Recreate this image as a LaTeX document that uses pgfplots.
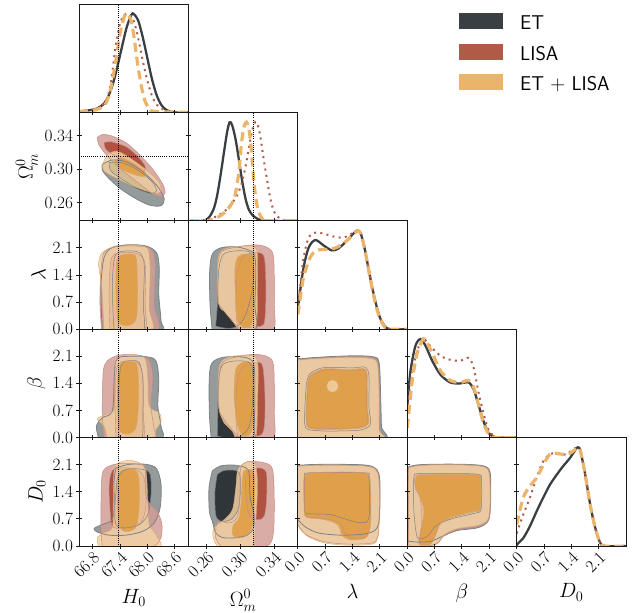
\documentclass[border=0pt]{standalone}
\usepackage{pgfplots}
\usepackage{pgfplotstable}
\pgfplotsset{compat=1.18}

% line colours of the three data sets
\definecolor{etline}{HTML}{393F42}
\definecolor{lisaline}{HTML}{B15A46}
\definecolor{bothline}{HTML}{EBB469}
% fill colours (outer = 95%, inner = 68%)
\definecolor{etout}{HTML}{83888A}
\definecolor{etin}{HTML}{1E2427}
\definecolor{lisaout}{HTML}{D29D96}
\definecolor{lisain}{HTML}{A9432F}
\definecolor{bothout}{HTML}{F1D1A4}
\definecolor{bothin}{HTML}{E09B3F}
\definecolor{etedge}{HTML}{7C8285}
\definecolor{lisaedge}{HTML}{C48B82}
\definecolor{bothedge}{HTML}{D6A86C}

\pgfplotsset{
  panel/.style={scale only axis, width=109.4bp, height=108.4bp, anchor=north west, axis on top,
    axis line style={line width=0.9pt, black!90},
    tick style={line width=0.9pt, black!90},
    major tick length=5bp, tick align=center,
    tick label style={font=\fontsize{16.3}{16.3}\selectfont},
    xticklabel style={rotate=45, anchor=north east, inner sep=1.5pt},
    label style={font=\fontsize{21}{21}\selectfont},
    xlabel style={yshift=-5bp}},
  diag/.style={ymin=0, ymax=1.1, ytick=\empty, xtick pos=left},
  Hx/.style={xmin=66.5, xmax=68.9, xtick={66.8,67.4,68.0,68.6}},
  Ox/.style={xmin=0.238, xmax=0.368, xtick={0.26,0.30,0.34}},
  Ax/.style={xmin=0, xmax=2.8, xtick={0,0.7,1.4,2.1}},
  Oy/.style={ymin=0.238, ymax=0.368, ytick={0.26,0.30,0.34}},
  Ay/.style={ymin=0, ymax=2.8, ytick={0,0.7,1.4,2.1}},
  nox/.style={xticklabels={}},
  noy/.style={yticklabels={}},
  HxL/.style={xticklabels={$66.8$,$67.4$,$68.0$,$68.6$}, xlabel={$H_0$}},
  OxL/.style={xticklabels={$0.26$,$0.30$,$0.34$}, xlabel={$\Omega_m^0$}},
  AxL/.style={xticklabels={$0.0$,$0.7$,$1.4$,$2.1$}},
  OyL/.style={yticklabels={$0.26$,$0.30$,$0.34$}, ylabel={$\Omega_m^0$}},
  AyL/.style={yticklabels={$0.0$,$0.7$,$1.4$,$2.1$}},
  refline/.style={black, line width=0.5pt, dash pattern=on 0.8pt off 1.3pt, forget plot},
  etcurve/.style={smooth, etline, line width=2.3pt},
  lisacurve/.style={smooth, lisaline, line width=2pt, dash pattern=on 2pt off 4.3pt},
  bothcurve/.style={smooth, bothline, line width=3.2pt, dash pattern=on 9pt off 5pt},
}

\newcommand\shapefill[2]{\addplot[smooth, draw=none, fill=#2, fill opacity=0.85, forget plot] table {#1};}
\newcommand\shapeline[3]{\addplot[smooth, draw=#2, line width=#3, forget plot] table {#1};}
\newcommand\contours[1]{%
  \expandafter\shapefill\csname c#1Eo\endcsname{etout}%
  \expandafter\shapefill\csname c#1Ei\endcsname{etin}%
  \expandafter\shapefill\csname c#1Lo\endcsname{lisaout}%
  \expandafter\shapefill\csname c#1Li\endcsname{lisain}%
  \expandafter\shapefill\csname c#1Bo\endcsname{bothout}%
  \expandafter\shapefill\csname c#1Bi\endcsname{bothin}%
  \expandafter\shapeline\csname c#1Eo\endcsname{etedge}{0.8pt}%
  \expandafter\shapeline\csname c#1Ei\endcsname{etedge}{0.5pt}%
  \expandafter\shapeline\csname c#1Lo\endcsname{lisaedge}{0.5pt}%
  \expandafter\shapeline\csname c#1Li\endcsname{lisaedge}{0.4pt}%
  \expandafter\shapeline\csname c#1Bo\endcsname{bothedge}{0.4pt}%
  \expandafter\shapeline\csname c#1Bi\endcsname{bothedge}{0.4pt}%
}

% ---------- H0 -- Omega_m ----------
\pgfplotstableread[row sep=\\]{x y\\ 67.01 0.3057\\ 67.23 0.3109\\ 67.53 0.3089\\ 67.90 0.2969\\ 68.23 0.2789\\ 68.37 0.2641\\ 68.30 0.2561\\ 68.04 0.2569\\ 67.71 0.2657\\ 67.38 0.2777\\ 67.12 0.2909\\ 67.01 0.2989\\ 67.01 0.3057\\}\caEo
\pgfplotstableread[row sep=\\]{x y\\ 67.16 0.3077\\ 67.45 0.3077\\ 67.82 0.2977\\ 68.12 0.2837\\ 68.20 0.2737\\ 68.08 0.2709\\ 67.78 0.2765\\ 67.45 0.2877\\ 67.20 0.2977\\ 67.16 0.3077\\}\caEi
\pgfplotstableread[row sep=\\]{x y\\ 66.90 0.3376\\ 67.01 0.3416\\ 67.23 0.3396\\ 67.53 0.3316\\ 67.82 0.3177\\ 68.12 0.2997\\ 68.34 0.2817\\ 68.39 0.2717\\ 68.30 0.2669\\ 68.08 0.2717\\ 67.75 0.2857\\ 67.38 0.3017\\ 67.09 0.3177\\ 66.93 0.3297\\ 66.90 0.3376\\}\caLo
\pgfplotstableread[row sep=\\]{x y\\ 67.05 0.3316\\ 67.20 0.3328\\ 67.53 0.3268\\ 67.78 0.3157\\ 67.95 0.3037\\ 67.93 0.2973\\ 67.78 0.3005\\ 67.53 0.3085\\ 67.27 0.3165\\ 67.09 0.3237\\ 67.05 0.3316\\}\caLi
\pgfplotstableread[row sep=\\]{x y\\ 67.01 0.3040\\ 67.12 0.3170\\ 67.33 0.3215\\ 67.60 0.3140\\ 67.95 0.3000\\ 68.23 0.2860\\ 68.30 0.2757\\ 68.23 0.2709\\ 67.97 0.2737\\ 67.60 0.2817\\ 67.23 0.2917\\ 67.05 0.2977\\ 67.01 0.3040\\}\caBo
\pgfplotstableread[row sep=\\]{x y\\ 67.27 0.3097\\ 67.42 0.3137\\ 67.67 0.3077\\ 67.93 0.2977\\ 67.97 0.2917\\ 67.82 0.2917\\ 67.60 0.2957\\ 67.38 0.3017\\ 67.27 0.3097\\}\caBi

% ---------- H0 -- lambda ----------
\pgfplotstableread[row sep=\\]{x y\\ 67.01 -0.05\\ 66.98 1.07\\ 67.05 1.85\\ 67.23 2.11\\ 67.60 2.18\\ 67.97 2.15\\ 68.20 1.98\\ 68.26 1.59\\ 68.25 0.90\\ 68.30 0.21\\ 68.28 -0.05\\ 67.01 -0.05\\}\cbEo
\pgfplotstableread[row sep=\\]{x y\\ 67.27 -0.05\\ 67.23 1.07\\ 67.29 1.89\\ 67.53 2.02\\ 67.82 1.98\\ 67.93 1.68\\ 67.91 0.64\\ 67.90 -0.05\\ 67.27 -0.05\\}\cbEi
\pgfplotstableread[row sep=\\]{x y\\ 67.00 -0.05\\ 66.96 0.64\\ 66.98 1.50\\ 67.05 1.98\\ 67.31 2.13\\ 67.75 2.15\\ 68.08 2.07\\ 68.17 1.68\\ 68.15 0.64\\ 68.20 -0.05\\ 67.00 -0.05\\}\cbLo
\pgfplotstableread[row sep=\\]{x y\\ 67.18 -0.05\\ 67.16 1.07\\ 67.22 1.85\\ 67.45 1.98\\ 67.78 1.95\\ 67.95 1.68\\ 67.95 0.64\\ 67.93 -0.05\\ 67.18 -0.05\\}\cbLi
\pgfplotstableread[row sep=\\]{x y\\ 67.05 -0.05\\ 67.00 1.07\\ 66.93 1.68\\ 67.01 1.98\\ 67.31 2.15\\ 67.75 2.18\\ 68.01 2.07\\ 68.06 1.50\\ 68.04 0.55\\ 68.08 -0.05\\ 67.05 -0.05\\}\cbBo
\pgfplotstableread[row sep=\\]{x y\\ 67.34 0.21\\ 67.31 1.07\\ 67.33 1.76\\ 67.42 1.91\\ 67.67 1.94\\ 67.76 1.81\\ 67.78 1.07\\ 67.76 0.29\\ 67.60 0.10\\ 67.42 0.12\\ 67.34 0.21\\}\cbBi

% ---------- Omega_m -- lambda ----------
\pgfplotstableread[row sep=\\]{x y\\ 0.2664 -0.05\\ 0.2637 0.64\\ 0.2633 1.50\\ 0.2664 1.94\\ 0.2764 2.10\\ 0.2923 2.13\\ 0.3062 2.07\\ 0.3161 1.94\\ 0.3181 1.50\\ 0.3169 0.64\\ 0.3161 -0.05\\ 0.2664 -0.05\\}\ccEo
\pgfplotstableread[row sep=\\]{x y\\ 0.2704 0.08\\ 0.2725 0.64\\ 0.2740 1.50\\ 0.2790 1.92\\ 0.2923 2.02\\ 0.3102 2.00\\ 0.3153 1.76\\ 0.3142 1.07\\ 0.3062 0.38\\ 0.2963 0.08\\ 0.2843 0.02\\ 0.2704 0.08\\}\ccEi
\pgfplotstableread[row sep=\\]{x y\\ 0.3000 -0.05\\ 0.2900 0.22\\ 0.2800 0.48\\ 0.2724 0.75\\ 0.2724 1.50\\ 0.2764 1.98\\ 0.2923 2.11\\ 0.3161 2.18\\ 0.3320 2.11\\ 0.3392 1.85\\ 0.3400 0.64\\ 0.3380 -0.05\\ 0.3000 -0.05\\}\ccLo
\pgfplotstableread[row sep=\\]{x y\\ 0.2963 0.035\\ 0.2943 0.64\\ 0.2963 1.50\\ 0.3042 1.89\\ 0.3201 1.98\\ 0.3281 1.85\\ 0.3301 1.07\\ 0.3289 0.29\\ 0.3241 0.08\\ 0.2963 0.035\\}\ccLi
\pgfplotstableread[row sep=\\]{x y\\ 0.2804 0.47\\ 0.2744 0.64\\ 0.2724 1.50\\ 0.2744 1.94\\ 0.2843 2.10\\ 0.3042 2.15\\ 0.3161 2.13\\ 0.3201 1.94\\ 0.3201 1.07\\ 0.3193 0.21\\ 0.3142 -0.05\\ 0.3002 -0.05\\ 0.2903 0.21\\ 0.2804 0.47\\}\ccBo
\pgfplotstableread[row sep=\\]{x y\\ 0.2943 0.64\\ 0.2931 1.50\\ 0.2963 1.85\\ 0.3042 1.94\\ 0.3142 1.89\\ 0.3161 1.50\\ 0.3153 0.64\\ 0.3129 0.12\\ 0.3042 0.05\\ 0.2963 0.21\\ 0.2943 0.64\\}\ccBi

% ---------- H0 -- beta ----------
\pgfplotstableread[row sep=\\]{x y\\ 66.94 -0.05\\ 66.88 0.29\\ 67.01 0.51\\ 67.23 0.68\\ 67.27 1.50\\ 67.31 1.98\\ 67.45 2.09\\ 67.97 2.09\\ 68.19 1.98\\ 68.25 1.50\\ 68.23 0.81\\ 68.30 0.29\\ 68.26 -0.05\\ 66.94 -0.05\\}\cdEo
\pgfplotstableread[row sep=\\]{x y\\ 67.38 -0.05\\ 67.37 1.07\\ 67.42 1.85\\ 67.60 1.98\\ 67.82 1.94\\ 67.90 1.50\\ 67.90 0.64\\ 67.86 -0.05\\ 67.38 -0.05\\}\cdEi
\pgfplotstableread[row sep=\\]{x y\\ 67.05 -0.05\\ 67.01 0.64\\ 67.03 1.68\\ 67.12 1.98\\ 67.38 2.13\\ 67.82 2.13\\ 68.04 2.00\\ 68.12 1.59\\ 68.08 0.81\\ 68.15 0.21\\ 68.13 -0.05\\ 67.05 -0.05\\}\cdLo
\pgfplotstableread[row sep=\\]{x y\\ 67.31 -0.05\\ 67.29 1.07\\ 67.34 1.85\\ 67.53 1.98\\ 67.78 1.95\\ 67.90 1.59\\ 67.91 0.64\\ 67.90 -0.05\\ 67.31 -0.05\\}\cdLi
\pgfplotstableread[row sep=\\]{x y\\ 67.12 -0.05\\ 67.05 0.29\\ 66.90 0.48\\ 67.09 0.60\\ 67.27 0.73\\ 67.29 1.50\\ 67.32 2.02\\ 67.53 2.13\\ 67.86 2.11\\ 67.97 1.98\\ 68.01 1.50\\ 68.04 0.81\\ 68.26 0.64\\ 68.30 0.42\\ 68.19 0.21\\ 68.08 -0.05\\ 67.12 -0.05\\}\cdBo
\pgfplotstableread[row sep=\\]{x y\\ 67.38 0.21\\ 67.34 1.07\\ 67.37 1.76\\ 67.45 1.94\\ 67.67 1.96\\ 67.78 1.85\\ 67.81 1.07\\ 67.76 0.29\\ 67.60 0.10\\ 67.44 0.12\\ 67.38 0.21\\}\cdBi

% ---------- Omega_m -- beta ----------
\pgfplotstableread[row sep=\\]{x y\\ 0.2652 -0.05\\ 0.2629 0.64\\ 0.2629 1.59\\ 0.2664 1.94\\ 0.2784 2.07\\ 0.2963 2.09\\ 0.3102 2.04\\ 0.3161 1.85\\ 0.3169 1.07\\ 0.3161 0.21\\ 0.3142 -0.05\\ 0.2652 -0.05\\}\ceEo
\pgfplotstableread[row sep=\\]{x y\\ 0.2724 0.035\\ 0.2730 0.64\\ 0.2740 1.50\\ 0.2790 1.89\\ 0.2943 1.98\\ 0.3102 1.94\\ 0.3145 1.68\\ 0.3142 0.90\\ 0.3102 0.29\\ 0.3002 0.05\\ 0.2843 0.0\\ 0.2724 0.035\\}\ceEi
\pgfplotstableread[row sep=\\]{x y\\ 0.3000 -0.05\\ 0.2900 0.20\\ 0.2800 0.48\\ 0.2744 0.75\\ 0.2744 1.50\\ 0.2784 1.94\\ 0.2963 2.09\\ 0.3161 2.15\\ 0.3320 2.09\\ 0.3392 1.85\\ 0.3400 0.64\\ 0.3380 -0.05\\ 0.3000 -0.05\\}\ceLo
\pgfplotstableread[row sep=\\]{x y\\ 0.2963 0.035\\ 0.2943 0.64\\ 0.2963 1.50\\ 0.3042 1.85\\ 0.3181 1.94\\ 0.3261 1.85\\ 0.3289 1.07\\ 0.3281 0.29\\ 0.3221 0.05\\ 0.2963 0.035\\}\ceLi
\pgfplotstableread[row sep=\\]{x y\\ 0.2804 0.38\\ 0.2744 0.73\\ 0.2732 1.50\\ 0.2764 1.94\\ 0.2883 2.09\\ 0.3082 2.13\\ 0.3181 2.07\\ 0.3209 1.76\\ 0.3201 0.90\\ 0.3193 0.21\\ 0.3161 -0.05\\ 0.2963 -0.05\\ 0.2903 0.16\\ 0.2804 0.38\\}\ceBo
\pgfplotstableread[row sep=\\]{x y\\ 0.2955 0.38\\ 0.2923 1.07\\ 0.2943 1.76\\ 0.3022 1.94\\ 0.3122 1.94\\ 0.3161 1.68\\ 0.3153 0.64\\ 0.3122 0.12\\ 0.3022 0.05\\ 0.2955 0.38\\}\ceBi

% ---------- lambda -- beta ----------
\pgfplotstableread[row sep=\\]{x y\\ -0.04 -0.05\\ -0.04 1.89\\ 0.13 2.04\\ 1.27 2.11\\ 1.91 2.09\\ 2.08 1.94\\ 2.12 1.07\\ 2.14 0.29\\ 2.16 -0.05\\ -0.04 -0.05\\}\cfEo
\pgfplotstableread[row sep=\\]{x y\\ 0.22 1.40\\ 0.32 1.66\\ 0.68 1.81\\ 1.40 1.80\\ 1.72 1.82\\ 1.82 1.60\\ 1.82 0.80\\ 1.86 0.35\\ 1.62 0.20\\ 1.00 0.17\\ 0.50 0.18\\ 0.20 0.26\\ 0.18 0.75\\ 0.22 1.40\\}\cfEi
\pgfplotstableread[row sep=\\]{x y\\ -0.04 -0.05\\ -0.04 1.89\\ 0.13 2.02\\ 1.27 2.09\\ 1.88 2.07\\ 2.05 1.91\\ 2.09 1.07\\ 2.09 0.21\\ 2.12 -0.05\\ -0.04 -0.05\\}\cfLo
\pgfplotstableread[row sep=\\]{x y\\ 0.27 1.44\\ 0.36 1.61\\ 0.70 1.75\\ 1.40 1.74\\ 1.68 1.76\\ 1.76 1.58\\ 1.76 0.82\\ 1.79 0.40\\ 1.60 0.27\\ 1.02 0.24\\ 0.52 0.24\\ 0.26 0.31\\ 0.23 0.73\\ 0.27 1.44\\}\cfLi
\pgfplotstableread[row sep=\\]{x y\\ -0.04 -0.05\\ -0.04 1.85\\ 0.085 2.00\\ 0.51 2.04\\ 1.27 2.07\\ 1.87 2.04\\ 2.04 1.89\\ 2.08 1.07\\ 2.08 0.21\\ 2.12 -0.05\\ -0.04 -0.05\\}\cfBo
\pgfplotstableread[row sep=\\]{x y\\ 0.25 1.42\\ 0.34 1.63\\ 0.68 1.78\\ 1.19 1.76\\ 1.40 1.76\\ 1.70 1.78\\ 1.78 1.59\\ 1.78 0.81\\ 1.82 0.38\\ 1.61 0.25\\ 1.02 0.21\\ 0.51 0.21\\ 0.24 0.29\\ 0.21 0.73\\ 0.25 1.42\\}\cfBi
\pgfplotstableread[row sep=\\]{x y\\ 1.04 1.33\\ 0.996 1.443\\ 0.89 1.49\\ 0.784 1.443\\ 0.74 1.33\\ 0.784 1.217\\ 0.89 1.17\\ 0.996 1.217\\ 1.04 1.33\\}\cfH

% ---------- H0 -- D0 ----------
\pgfplotstableread[row sep=\\]{x y\\ 67.31 2.02\\ 67.60 2.11\\ 67.97 2.11\\ 68.20 2.00\\ 68.30 1.59\\ 68.28 0.99\\ 68.15 0.60\\ 67.90 0.38\\ 67.53 0.28\\ 67.16 0.28\\ 66.90 0.36\\ 66.83 0.45\\ 66.98 0.54\\ 67.23 0.68\\ 67.27 1.07\\ 67.27 1.68\\ 67.31 2.02\\}\cgEo
\pgfplotstableread[row sep=\\]{x y\\ 67.34 1.76\\ 67.53 1.98\\ 67.90 1.98\\ 68.06 1.85\\ 68.08 1.33\\ 68.01 0.81\\ 67.82 0.55\\ 67.53 0.47\\ 67.31 0.55\\ 67.29 1.07\\ 67.34 1.76\\}\cgEi
\pgfplotstableread[row sep=\\]{x y\\ 67.01 -0.05\\ 66.98 0.64\\ 67.00 1.76\\ 67.09 2.02\\ 67.38 2.13\\ 67.82 2.11\\ 67.95 1.98\\ 67.98 1.24\\ 68.23 0.86\\ 68.32 0.55\\ 68.30 0.21\\ 68.19 0.035\\ 67.97 -0.05\\ 67.01 -0.05\\}\cgLo
\pgfplotstableread[row sep=\\]{x y\\ 67.20 0.64\\ 67.16 1.50\\ 67.23 1.94\\ 67.45 2.02\\ 67.75 1.98\\ 67.93 1.76\\ 67.97 1.07\\ 67.86 0.60\\ 67.53 0.47\\ 67.27 0.47\\ 67.20 0.64\\}\cgLi
\pgfplotstableread[row sep=\\]{x y\\ 66.94 -0.05\\ 66.90 0.21\\ 67.05 0.34\\ 67.23 0.47\\ 67.25 1.07\\ 67.27 1.94\\ 67.38 2.15\\ 67.60 2.21\\ 67.82 2.15\\ 67.97 1.94\\ 68.01 1.07\\ 68.04 0.55\\ 68.19 0.29\\ 68.23 -0.05\\ 66.94 -0.05\\}\cgBo
\pgfplotstableread[row sep=\\]{x y\\ 67.38 0.55\\ 67.34 1.24\\ 67.37 1.85\\ 67.49 1.98\\ 67.71 1.98\\ 67.81 1.76\\ 67.82 1.07\\ 67.76 0.51\\ 67.60 0.38\\ 67.45 0.40\\ 67.38 0.55\\}\cgBi

% ---------- Omega_m -- D0 ----------
\pgfplotstableread[row sep=\\]{x y\\ 0.2664 1.94\\ 0.2764 2.07\\ 0.2923 2.09\\ 0.3062 2.02\\ 0.3102 1.85\\ 0.3114 1.24\\ 0.3161 0.81\\ 0.3153 0.47\\ 0.3082 0.28\\ 0.2923 0.21\\ 0.2784 0.22\\ 0.2704 0.34\\ 0.2664 0.64\\ 0.2629 0.90\\ 0.2625 1.50\\ 0.2664 1.94\\}\chEo
\pgfplotstableread[row sep=\\]{x y\\ 0.2724 1.85\\ 0.2804 1.95\\ 0.2943 1.95\\ 0.2994 1.81\\ 0.2994 1.24\\ 0.2963 0.90\\ 0.2883 0.68\\ 0.2764 0.64\\ 0.2704 0.81\\ 0.2696 1.42\\ 0.2724 1.85\\}\chEi
\pgfplotstableread[row sep=\\]{x y\\ 0.2704 0.21\\ 0.2724 0.62\\ 0.2883 0.60\\ 0.2971 0.81\\ 0.2994 1.50\\ 0.3002 2.02\\ 0.3082 2.18\\ 0.3281 2.15\\ 0.3380 1.98\\ 0.3400 1.24\\ 0.3392 0.38\\ 0.3340 0.035\\ 0.3161 -0.05\\ 0.2804 -0.05\\ 0.2704 0.21\\}\chLo
\pgfplotstableread[row sep=\\]{x y\\ 0.3062 1.85\\ 0.3161 2.00\\ 0.3261 2.00\\ 0.3309 1.85\\ 0.3309 1.24\\ 0.3281 0.77\\ 0.3201 0.68\\ 0.3102 0.81\\ 0.3062 1.33\\ 0.3062 1.85\\}\chLi
\pgfplotstableread[row sep=\\]{x y\\ 0.3022 2.11\\ 0.3102 2.18\\ 0.3181 2.07\\ 0.3201 1.50\\ 0.3181 0.64\\ 0.3161 0.12\\ 0.3122 -0.05\\ 0.2764 -0.05\\ 0.2676 0.21\\ 0.2684 0.47\\ 0.2804 0.68\\ 0.2903 0.94\\ 0.2943 1.50\\ 0.2963 1.94\\ 0.3022 2.11\\}\chBo
\pgfplotstableread[row sep=\\]{x y\\ 0.3034 1.94\\ 0.3122 1.98\\ 0.3169 1.76\\ 0.3161 1.07\\ 0.3142 0.55\\ 0.3082 0.28\\ 0.2963 0.21\\ 0.2903 0.31\\ 0.2915 0.54\\ 0.2982 0.73\\ 0.3010 1.24\\ 0.3018 1.68\\ 0.3034 1.94\\}\chBi

% ---------- lambda -- D0 ----------
\pgfplotstableread[row sep=\\]{x y\\ -0.04 0.73\\ -0.04 1.98\\ 0.13 2.09\\ 0.85 2.11\\ 1.74 2.09\\ 2.02 1.98\\ 2.10 1.68\\ 2.09 0.73\\ 1.99 0.42\\ 1.70 0.31\\ 1.10 0.28\\ 0.51 0.34\\ 0.17 0.51\\ -0.04 0.73\\}\ciEo
\pgfplotstableread[row sep=\\]{x y\\ 0.17 0.86\\ 0.17 1.76\\ 0.30 1.89\\ 1.70 1.89\\ 1.82 1.76\\ 1.82 0.73\\ 1.61 0.60\\ 1.27 0.68\\ 0.85 0.81\\ 0.34 0.83\\ 0.17 0.86\\}\ciEi
\pgfplotstableread[row sep=\\]{x y\\ -0.04 0.70\\ -0.04 1.95\\ 0.13 2.07\\ 0.85 2.09\\ 1.70 2.07\\ 1.99 1.98\\ 2.08 1.68\\ 2.08 0.64\\ 2.05 0.25\\ 1.91 0.08\\ 1.27 0.05\\ 0.68 0.11\\ 0.25 0.27\\ 0.04 0.49\\ -0.04 0.70\\}\ciLo
\pgfplotstableread[row sep=\\]{x y\\ 0.19 0.80\\ 0.17 1.70\\ 0.27 1.88\\ 0.85 1.90\\ 1.70 1.88\\ 1.84 1.72\\ 1.86 0.70\\ 1.80 0.30\\ 1.68 0.21\\ 1.38 0.21\\ 1.20 0.33\\ 1.08 0.60\\ 0.68 0.71\\ 0.26 0.75\\ 0.19 0.80\\}\ciLi
\pgfplotstableread[row sep=\\]{x y\\ -0.04 0.73\\ -0.04 1.94\\ 0.13 2.07\\ 0.85 2.09\\ 1.70 2.07\\ 1.99 1.98\\ 2.08 1.68\\ 2.08 0.64\\ 2.04 0.21\\ 1.91 0.05\\ 1.27 0.02\\ 0.68 0.08\\ 0.25 0.25\\ 0.04 0.47\\ -0.04 0.73\\}\ciBo
\pgfplotstableread[row sep=\\]{x y\\ 0.17 0.81\\ 0.15 1.68\\ 0.25 1.87\\ 0.85 1.91\\ 1.70 1.89\\ 1.85 1.72\\ 1.87 0.73\\ 1.82 0.34\\ 1.70 0.19\\ 1.36 0.16\\ 1.15 0.25\\ 1.02 0.55\\ 0.68 0.68\\ 0.25 0.73\\ 0.17 0.81\\}\ciBi

% ---------- beta -- D0 ----------
\pgfplotstableread[row sep=\\]{x y\\ 0.03 0.10\\ 0.02 1.87\\ 0.13 2.07\\ 0.60 2.11\\ 1.46 2.11\\ 1.99 2.06\\ 2.13 1.85\\ 2.13 1.07\\ 2.07 0.64\\ 1.80 0.47\\ 1.28 0.40\\ 0.90 0.25\\ 0.60 0.12\\ 0.26 0.10\\ 0.08 0.12\\ 0.03 0.10\\}\cjEo
\pgfplotstableread[row sep=\\]{x y\\ 0.17 0.90\\ 0.17 1.76\\ 0.30 1.87\\ 1.03 1.87\\ 1.82 1.85\\ 1.90 1.68\\ 1.89 0.95\\ 1.71 0.84\\ 1.20 0.72\\ 0.77 0.55\\ 0.51 0.25\\ 0.26 0.22\\ 0.17 0.90\\}\cjEi
\pgfplotstableread[row sep=\\]{x y\\ 0.04 0.0\\ 0.03 1.86\\ 0.13 2.05\\ 0.60 2.10\\ 1.46 2.10\\ 1.97 2.05\\ 2.11 1.85\\ 2.13 1.07\\ 2.08 0.66\\ 1.82 0.50\\ 1.28 0.42\\ 0.94 0.26\\ 0.77 0.06\\ 0.43 -0.02\\ 0.13 -0.02\\ 0.04 0.0\\}\cjLo
\pgfplotstableread[row sep=\\]{x y\\ 0.22 1.45\\ 0.19 1.74\\ 0.33 1.85\\ 1.03 1.86\\ 1.81 1.84\\ 1.89 1.68\\ 1.88 0.97\\ 1.71 0.88\\ 1.20 0.75\\ 0.86 0.58\\ 0.72 0.28\\ 0.60 0.06\\ 0.32 0.04\\ 0.36 0.50\\ 0.34 1.20\\ 0.22 1.45\\}\cjLi
\pgfplotstableread[row sep=\\]{x y\\ 0.04 0.035\\ 0.03 1.85\\ 0.13 2.04\\ 0.60 2.09\\ 1.46 2.09\\ 1.97 2.04\\ 2.10 1.85\\ 2.12 1.07\\ 2.06 0.68\\ 1.80 0.53\\ 1.28 0.45\\ 0.94 0.29\\ 0.77 0.078\\ 0.43 -0.01\\ 0.13 -0.01\\ 0.04 0.035\\}\cjBo
\pgfplotstableread[row sep=\\]{x y\\ 0.21 1.50\\ 0.21 1.72\\ 0.34 1.83\\ 1.03 1.85\\ 1.80 1.83\\ 1.88 1.68\\ 1.87 0.985\\ 1.71 0.90\\ 1.20 0.77\\ 0.86 0.60\\ 0.73 0.29\\ 0.60 0.05\\ 0.30 0.05\\ 0.34 0.38\\ 0.43 0.90\\ 0.30 1.33\\ 0.21 1.50\\}\cjBi

\begin{document}
\begin{tikzpicture}
\path[use as bounding box] (0,0) rectangle (641bp,-613bp);

% ===== row 1 =====
\begin{axis}[panel, at={(79bp,-4bp)}, Hx, nox, diag]
\addplot[etcurve] coordinates {(66.5,0.01)(66.7,0.02)(66.9,0.04)(67.05,0.09)(67.15,0.17)(67.25,0.30)(67.35,0.48)(67.45,0.68)(67.55,0.87)(67.65,0.99)(67.70,1.00)(67.80,0.93)(67.90,0.76)(68.00,0.55)(68.10,0.34)(68.20,0.18)(68.30,0.08)(68.40,0.03)(68.50,0.01)(68.60,0)(68.90,0)};
\addplot[lisacurve] coordinates {(66.5,0)(66.8,0.02)(66.95,0.05)(67.10,0.12)(67.20,0.30)(67.30,0.66)(67.40,0.90)(67.50,0.99)(67.58,1.00)(67.70,0.93)(67.80,0.75)(67.90,0.52)(68.00,0.32)(68.10,0.17)(68.20,0.08)(68.35,0.03)(68.50,0.01)(68.90,0)};
\addplot[bothcurve] coordinates {(66.5,0.01)(66.8,0.02)(67.00,0.05)(67.10,0.10)(67.20,0.25)(67.30,0.50)(67.40,0.80)(67.50,0.98)(67.56,1.00)(67.65,0.92)(67.72,0.72)(67.80,0.45)(67.88,0.24)(67.96,0.10)(68.05,0.04)(68.15,0.01)(68.90,0)};
\addplot[refline] coordinates {(67.36,0) (67.36,1.1)};
\end{axis}

% ===== row 2 =====
\begin{axis}[panel, at={(79bp,-112.4bp)}, Hx, nox, Oy, OyL]
\contours{a}
\addplot[refline] coordinates {(67.36,0.2) (67.36,0.4)};
\addplot[refline] coordinates {(66.4,0.3153) (69,0.3153)};
\end{axis}
\begin{axis}[panel, at={(188.4bp,-112.4bp)}, Ox, nox, diag]
\addplot[etcurve] coordinates {(0.240,0)(0.255,0)(0.262,0.03)(0.268,0.12)(0.272,0.25)(0.276,0.45)(0.280,0.68)(0.284,0.90)(0.287,1.00)(0.290,0.97)(0.294,0.83)(0.298,0.62)(0.302,0.40)(0.306,0.22)(0.310,0.11)(0.315,0.05)(0.320,0.02)(0.330,0)(0.368,0)};
\addplot[lisacurve] coordinates {(0.240,0)(0.262,0)(0.270,0.04)(0.280,0.09)(0.288,0.16)(0.296,0.26)(0.302,0.40)(0.307,0.60)(0.312,0.84)(0.316,0.98)(0.319,1.00)(0.323,0.88)(0.327,0.65)(0.331,0.44)(0.335,0.24)(0.339,0.11)(0.343,0.05)(0.350,0.01)(0.360,0)(0.368,0)};
\addplot[bothcurve] coordinates {(0.240,0)(0.260,0)(0.268,0.02)(0.276,0.05)(0.284,0.11)(0.290,0.18)(0.294,0.28)(0.298,0.50)(0.301,0.78)(0.304,0.95)(0.307,1.00)(0.310,0.93)(0.313,0.70)(0.316,0.38)(0.319,0.18)(0.322,0.08)(0.326,0.02)(0.332,0)(0.368,0)};
\addplot[refline] coordinates {(0.3153,0) (0.3153,1.1)};
\end{axis}

% ===== row 3 =====
\begin{axis}[panel, at={(79bp,-220.8bp)}, Hx, nox, Ay, AyL, ylabel={$\lambda$}]
\contours{b}
\addplot[refline] coordinates {(67.36,-1) (67.36,3)};
\end{axis}
\begin{axis}[panel, at={(188.4bp,-220.8bp)}, Ox, nox, Ay, noy]
\contours{c}
\addplot[refline] coordinates {(0.3153,-1) (0.3153,3)};
\end{axis}
\begin{axis}[panel, at={(297.8bp,-220.8bp)}, Ax, nox, diag]
\addplot[etcurve] coordinates {(0.00,0.22)(0.05,0.36)(0.15,0.63)(0.28,0.83)(0.45,0.905)(0.66,0.85)(0.87,0.80)(1.04,0.82)(1.26,0.90)(1.47,0.99)(1.55,1.00)(1.62,0.96)(1.72,0.80)(1.85,0.53)(1.98,0.29)(2.10,0.12)(2.23,0.03)(2.36,0)(2.80,0)};
\addplot[lisacurve] coordinates {(0.00,0.25)(0.05,0.40)(0.15,0.73)(0.28,0.93)(0.45,0.98)(0.66,0.97)(0.92,0.94)(1.17,0.93)(1.38,0.97)(1.52,1.00)(1.62,0.97)(1.72,0.82)(1.85,0.54)(1.98,0.29)(2.10,0.12)(2.23,0.03)(2.36,0)(2.80,0)};
\addplot[bothcurve] coordinates {(0.00,0.15)(0.05,0.28)(0.15,0.53)(0.32,0.73)(0.49,0.80)(0.75,0.81)(1.00,0.83)(1.26,0.90)(1.47,0.98)(1.55,1.00)(1.62,0.96)(1.72,0.80)(1.85,0.52)(1.98,0.27)(2.10,0.11)(2.23,0.02)(2.36,0)(2.80,0)};
\end{axis}

% ===== row 4 =====
\begin{axis}[panel, at={(79bp,-329.2bp)}, Hx, nox, Ay, AyL, ylabel={$\beta$}]
\contours{d}
\addplot[refline] coordinates {(67.36,-1) (67.36,3)};
\end{axis}
\begin{axis}[panel, at={(188.4bp,-329.2bp)}, Ox, nox, Ay, noy]
\contours{e}
\addplot[refline] coordinates {(0.3153,-1) (0.3153,3)};
\end{axis}
\begin{axis}[panel, at={(297.8bp,-329.2bp)}, Ax, nox, Ay, noy]
\contours{f}
\shapefill\cfH{bothout}
\shapeline\cfH{bothedge}{0.4pt}
\end{axis}
\begin{axis}[panel, at={(407.2bp,-329.2bp)}, Ax, nox, diag]
\addplot[etcurve] coordinates {(0.00,0.30)(0.03,0.45)(0.085,0.68)(0.21,0.93)(0.34,1.00)(0.47,0.93)(0.64,0.78)(0.85,0.64)(1.10,0.56)(1.36,0.55)(1.57,0.56)(1.70,0.49)(1.82,0.34)(1.95,0.17)(2.08,0.05)(2.21,0.01)(2.35,0)(2.80,0)};
\addplot[lisacurve] coordinates {(0.00,0.28)(0.02,0.34)(0.13,0.68)(0.30,0.93)(0.42,1.00)(0.59,0.93)(0.85,0.83)(1.10,0.79)(1.36,0.78)(1.57,0.81)(1.70,0.71)(1.82,0.47)(1.95,0.25)(2.08,0.08)(2.21,0.02)(2.35,0)(2.80,0)};
\addplot[bothcurve] coordinates {(0.00,0.10)(0.02,0.17)(0.13,0.58)(0.25,0.85)(0.38,0.98)(0.45,1.00)(0.64,0.86)(0.85,0.68)(1.10,0.58)(1.36,0.56)(1.57,0.58)(1.70,0.51)(1.82,0.34)(1.95,0.15)(2.08,0.04)(2.21,0)(2.80,0)};
\end{axis}

% ===== row 5 =====
\begin{axis}[panel, at={(79bp,-437.6bp)}, Hx, HxL, Ay, AyL, ylabel={$D_0$}]
\contours{g}
\addplot[refline] coordinates {(67.36,-1) (67.36,3)};
\end{axis}
\begin{axis}[panel, at={(188.4bp,-437.6bp)}, Ox, OxL, Ay, noy]
\contours{h}
\addplot[refline] coordinates {(0.3153,-1) (0.3153,3)};
\end{axis}
\begin{axis}[panel, at={(297.8bp,-437.6bp)}, Ax, AxL, xlabel={$\lambda$}, Ay, noy]
\contours{i}
\end{axis}
\begin{axis}[panel, at={(407.2bp,-437.6bp)}, Ax, AxL, xlabel={$\beta$}, Ay, noy]
\contours{j}
\end{axis}
\begin{axis}[panel, at={(516.6bp,-437.6bp)}, Ax, AxL, xlabel={$D_0$}, diag]
\addplot[etcurve] coordinates {(0.00,0)(0.02,0.02)(0.17,0.08)(0.34,0.20)(0.51,0.35)(0.68,0.49)(0.85,0.62)(1.02,0.72)(1.19,0.81)(1.36,0.89)(1.53,0.99)(1.58,1.00)(1.63,0.97)(1.74,0.76)(1.87,0.45)(1.99,0.22)(2.12,0.05)(2.25,0)(2.80,0)};
\addplot[lisacurve] coordinates {(0.00,0.13)(0.02,0.15)(0.17,0.32)(0.34,0.49)(0.51,0.69)(0.68,0.86)(0.85,0.93)(0.98,0.94)(1.10,0.93)(1.27,0.93)(1.44,0.98)(1.57,1.00)(1.63,0.97)(1.74,0.76)(1.87,0.45)(1.99,0.22)(2.12,0.05)(2.25,0)(2.80,0)};
\addplot[bothcurve] coordinates {(0.00,0.22)(0.02,0.25)(0.17,0.49)(0.34,0.61)(0.51,0.69)(0.68,0.82)(0.85,0.93)(1.02,0.94)(1.19,0.93)(1.36,0.94)(1.53,0.99)(1.57,1.00)(1.63,0.97)(1.74,0.76)(1.87,0.45)(1.99,0.22)(2.12,0.05)(2.25,0)(2.80,0)};
\end{axis}

% ===== legend =====
\fill[etline] (459.3bp,-13.3bp) rectangle (503.3bp,-29.3bp);
\fill[lisaline] (459.3bp,-43.5bp) rectangle (503.3bp,-59.8bp);
\fill[bothline] (459.3bp,-74bp) rectangle (503.3bp,-90bp);
\begin{scope}[every node/.style={anchor=base west, inner sep=0pt, font=\sffamily\fontsize{20}{20}\selectfont}]
\node at (520bp,-29.5bp) {ET};
\node at (520bp,-60bp) {LISA};
\node at (520bp,-90bp) {ET $+$ LISA};
\end{scope}
\end{tikzpicture}
\end{document}
